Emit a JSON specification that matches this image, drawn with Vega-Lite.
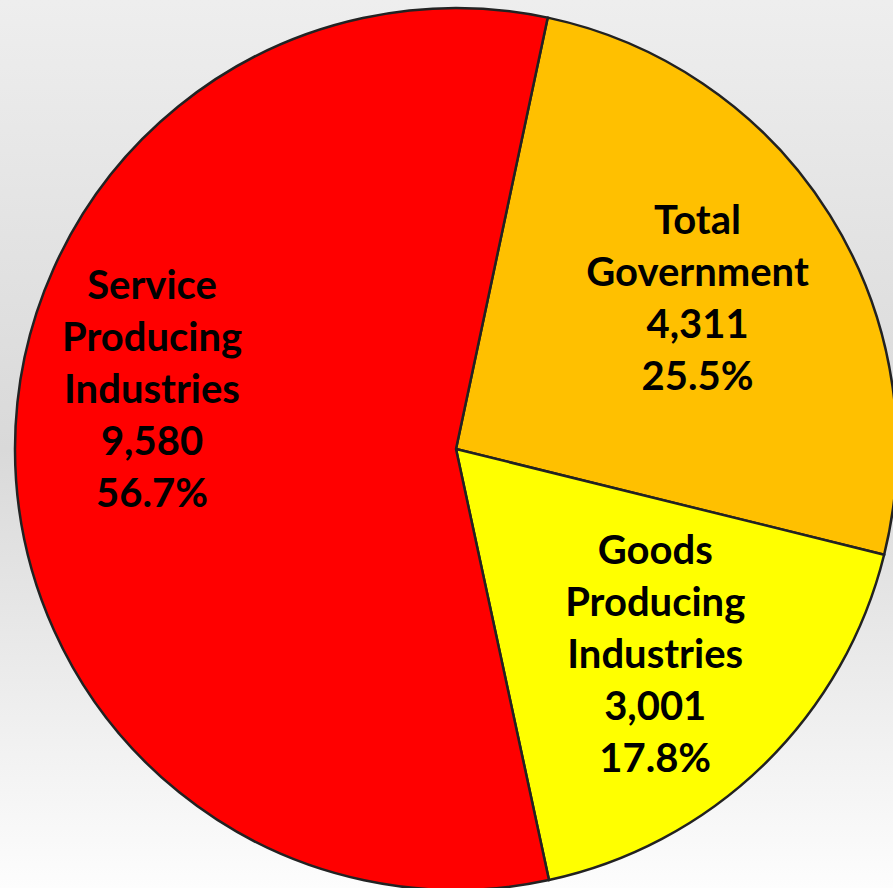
{
  "$schema": "https://vega.github.io/schema/vega-lite/v6.json",
  "width": 912,
  "height": 898,
  "autosize": "none",
  "padding": {"left": 0, "top": 0, "right": -19, "bottom": -10},
  "background": "#e6e6e6",
  "view": {
    "stroke": null,
    "fill": {"gradient": "linear", "x1": 0, "y1": 0, "x2": 0, "y2": 1, "stops": [{"offset": 0, "color": "#eeeeee"}, {"offset": 0.5, "color": "#d9d9d9"}, {"offset": 0.99, "color": "#fdfdfd"}, {"offset": 1, "color": "#fdfdfd"}]}
  },
  "data": {
    "values": [
      {"category": "Total Government", "value": 4311, "order": 1, "label": "Total\nGovernment\n4,311\n25.5%"},
      {"category": "Goods Producing Industries", "value": 3001, "order": 2, "label": "Goods\nProducing\nIndustries\n3,001\n17.8%"},
      {"category": "Service Producing Industries", "value": 9580, "order": 3, "label": "Service\nProducing\nIndustries\n9,580\n56.7%"}
    ]
  },
  "encoding": {
    "theta": {"field": "value", "type": "quantitative", "stack": true, "scale": {"range": [0.2094, 6.4926]}},
    "order": {"field": "order", "type": "quantitative"}
  },
  "layer": [
    {
      "mark": {"type": "arc", "outerRadius": 441, "stroke": "#222222", "strokeWidth": 2.5},
      "encoding": {
        "color": {
          "field": "category",
          "type": "nominal",
          "scale": {"domain": ["Total Government", "Goods Producing Industries", "Service Producing Industries"], "range": ["#FFC000", "#FFFF00", "#FF0000"]},
          "legend": null
        }
      }
    },
    {
      "mark": {"type": "text", "radius": 285, "dy": -76, "font": "Lato", "fontSize": 40, "fontWeight": "bold", "lineBreak": "\n", "lineHeight": 52, "color": "#000000", "baseline": "middle", "align": "center"},
      "encoding": {
        "text": {"field": "label", "type": "nominal"},
        "opacity": {"condition": {"test": "datum.category === 'Total Government'", "value": 1}, "value": 0}
      }
    },
    {
      "mark": {"type": "text", "radius": 286, "dy": -102, "font": "Lato", "fontSize": 40, "fontWeight": "bold", "lineBreak": "\n", "lineHeight": 52, "color": "#000000", "baseline": "middle", "align": "center"},
      "encoding": {
        "text": {"field": "label", "type": "nominal"},
        "opacity": {"condition": {"test": "datum.category === 'Goods Producing Industries'", "value": 1}, "value": 0}
      }
    },
    {
      "mark": {"type": "text", "radius": 304, "dy": -162, "font": "Lato", "fontSize": 40, "fontWeight": "bold", "lineBreak": "\n", "lineHeight": 52, "color": "#000000", "baseline": "middle", "align": "center"},
      "encoding": {
        "text": {"field": "label", "type": "nominal"},
        "opacity": {"condition": {"test": "datum.category === 'Service Producing Industries'", "value": 1}, "value": 0}
      }
    }
  ]
}
